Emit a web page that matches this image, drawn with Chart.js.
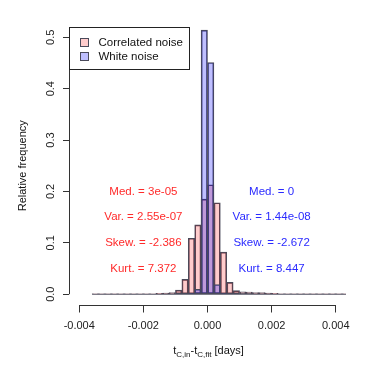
<!DOCTYPE html>
<html>
<head>
<meta charset="utf-8">
<script src="https://cdn.jsdelivr.net/npm/chart.js@4.4.1/dist/chart.umd.min.js"></script>
<style>
  body { margin: 0; background: #fff; }
  #wrap { width: 374px; height: 374px; }
</style>
</head>
<body>
<div id="wrap"><canvas id="histChart" width="374" height="374"></canvas></div>
<script>
// Bin centres of the histogram (bin width 0.0002 days)
const binCenters = [
  -0.0035, -0.0033, -0.0031, -0.0029, -0.0027, -0.0025, -0.0023, -0.0021,
  -0.0019, -0.0017, -0.0015, -0.0013, -0.0011, -0.0009, -0.0007, -0.0005,
  -0.0003, -0.0001, 0.0001, 0.0003, 0.0005, 0.0007, 0.0009, 0.0011,
  0.0013, 0.0015, 0.0017, 0.0019, 0.0021, 0.0023, 0.0025, 0.0027,
  0.0029, 0.0031, 0.0033, 0.0035, 0.0037, 0.0039, 0.0041, 0.0043
];
const binEdges = [-0.0036, 0.0044];

// Relative frequencies
const correlatedNoise = [
  0.0005, 0.0005, 0.0005, 0.0005, 0.0005, 0.0005, 0.0008, 0.001,
  0.001, 0.001, 0.0015, 0.002, 0.003, 0.008, 0.029, 0.109,
  0.135, 0.185, 0.213, 0.178, 0.082, 0.023, 0.007, 0.0045,
  0.004, 0.003, 0.003, 0.002, 0.0015, 0.001, 0.001, 0.001,
  0.0008, 0.0008, 0.0005, 0.0005, 0.0005, 0.0005, 0.0005, 0.0005
];
const whiteNoise = [
  0, 0, 0, 0, 0, 0, 0, 0,
  0, 0, 0, 0, 0, 0, 0, 0.001,
  0.0097, 0.514, 0.451, 0.019, 0.001, 0, 0, 0,
  0, 0, 0, 0, 0, 0, 0, 0,
  0, 0, 0, 0, 0, 0, 0, 0
];

const xTickValues = [-0.004, -0.002, 0, 0.002, 0.004];
const yTickValues = [0, 0.1, 0.2, 0.3, 0.4, 0.5];

// Summary statistics written on the plot
const statRowsY = [0.2, 0.15, 0.1, 0.05];
const correlatedStats = ['Med. = 3e-05', 'Var. = 2.55e-07', 'Skew. = -2.386', 'Kurt. = 7.372'];
const whiteStats = ['Med. = 0', 'Var. = 1.44e-08', 'Skew. = -2.672', 'Kurt. = 8.447'];
const correlatedStatsX = -0.002;
const whiteStatsX = 0.002;

const FONT = "'Liberation Sans', Arial, Helvetica, sans-serif";
const redFill = 'rgba(255, 0, 0, 0.2)';
const blueFill = 'rgba(0, 0, 255, 0.25)';
const edgeColor = '#4a4a5a';

function toPoints(values) {
  return binCenters.map((c, i) => ({ x: c, y: values[i] }));
}

// Draws axis lines (only between first and last tick), legend, stats and x title
const decorPlugin = {
  id: 'decor',
  afterDraw(chart) {
    const ctx = chart.ctx;
    const xs = chart.scales.x;
    const ys = chart.scales.y;
    const area = chart.chartArea;
    ctx.save();

    ctx.strokeStyle = '#333';
    ctx.lineWidth = 1;
    ctx.beginPath();
    const yb = Math.round(area.bottom) + 0.5;
    ctx.moveTo(xs.getPixelForValue(xTickValues[0]), yb);
    ctx.lineTo(xs.getPixelForValue(xTickValues[xTickValues.length - 1]), yb);
    const xl = Math.round(area.left) + 0.5;
    ctx.moveTo(xl, ys.getPixelForValue(yTickValues[0]));
    ctx.lineTo(xl, ys.getPixelForValue(yTickValues[yTickValues.length - 1]));
    ctx.stroke();

    // stats text
    ctx.font = '11.5px ' + FONT;
    ctx.textAlign = 'center';
    ctx.textBaseline = 'middle';
    statRowsY.forEach((v, i) => {
      const py = ys.getPixelForValue(v);
      ctx.fillStyle = '#ff2a2a';
      ctx.fillText(correlatedStats[i], xs.getPixelForValue(correlatedStatsX), py);
      ctx.fillStyle = '#2a2aff';
      ctx.fillText(whiteStats[i], xs.getPixelForValue(whiteStatsX), py);
    });

    // legend box in the top left corner
    const lx = Math.round(area.left) + 0.5;
    const ly = Math.round(area.top) + 0.5;
    ctx.strokeStyle = '#222';
    ctx.strokeRect(lx, ly, 120, 42);
    const entries = chart.data.datasets.filter(d => d.type === 'bar')
      .sort((a, b) => a.legendIndex - b.legendIndex);
    ctx.font = '11.5px ' + FONT;
    ctx.textAlign = 'left';
    entries.forEach((d, i) => {
      const cy = ly + 15 + i * 14;
      ctx.fillStyle = '#fff';
      ctx.fillRect(lx + 11, cy - 4, 8, 8);
      ctx.fillStyle = d.backgroundColor;
      ctx.fillRect(lx + 11, cy - 4, 8, 8);
      ctx.strokeStyle = edgeColor;
      ctx.strokeRect(lx + 11, cy - 4, 8, 8);
      ctx.fillStyle = '#111';
      ctx.fillText(d.label, lx + 29, cy + 0.5);
    });

    // x axis title with subscripts
    const parts = [
      ['t', 11, 0], ['C,in', 8, 3], ['-t', 11, 0], ['C,fit', 8, 3], [' [days]', 11, 0]
    ];
    let total = 0;
    parts.forEach(p => { ctx.font = p[1] + 'px ' + FONT; total += ctx.measureText(p[0]).width; });
    let px = (area.left + area.right) / 2 - total / 2 + 1;
    const base = 354;
    ctx.fillStyle = '#111';
    ctx.textBaseline = 'alphabetic';
    parts.forEach(p => {
      ctx.font = p[1] + 'px ' + FONT;
      ctx.fillText(p[0], px, base + p[2]);
      px += ctx.measureText(p[0]).width;
    });

    ctx.restore();
  }
};

const ctx = document.getElementById('histChart').getContext('2d');
new Chart(ctx, {
  type: 'bar',
  data: {
    datasets: [
      {
        type: 'bar',
        label: 'White noise',
        legendIndex: 1,
        data: toPoints(whiteNoise),
        backgroundColor: blueFill,
        borderColor: edgeColor,
        borderWidth: 1,
        borderSkipped: false,
        order: 0
      },
      {
        type: 'bar',
        label: 'Correlated noise',
        legendIndex: 0,
        data: toPoints(correlatedNoise),
        backgroundColor: redFill,
        borderColor: edgeColor,
        borderWidth: 1,
        borderSkipped: false,
        order: 1
      },
      {
        type: 'line',
        label: 'baseline',
        data: binEdges.map(e => ({ x: e, y: 0 })),
        borderColor: edgeColor,
        borderWidth: 1,
        pointRadius: 0,
        order: 2
      }
    ]
  },
  options: {
    responsive: false,
    animation: false,
    grouped: false,
    barPercentage: 1,
    categoryPercentage: 1,
    layout: { padding: { top: 27, right: 28, left: 0, bottom: 0 } },
    plugins: {
      legend: { display: false },
      tooltip: { enabled: false }
    },
    scales: {
      x: {
        type: 'linear',
        offset: false,
        min: -0.00432,
        max: 0.00432,
        afterBuildTicks: (scale) => { scale.ticks = xTickValues.map(v => ({ value: v })); },
        afterFit: (scale) => { scale.height = 69.5; },
        border: { display: false },
        grid: { offset: false, drawOnChartArea: false, drawTicks: true, tickLength: 8, color: '#333' },
        ticks: {
          color: '#222',
          font: { family: FONT, size: 11 },
          padding: 7,
          maxRotation: 0,
          callback: (v) => v.toFixed(3)
        }
      },
      y: {
        min: -0.02,
        max: 0.52,
        afterBuildTicks: (scale) => { scale.ticks = yTickValues.map(v => ({ value: v })); },
        afterFit: (scale) => { scale.width = 69; },
        border: { display: false },
        grid: { drawOnChartArea: false, drawTicks: true, tickLength: 6, color: '#333' },
        ticks: {
          color: '#222',
          font: { family: FONT, size: 11 },
          padding: 4,
          minRotation: 90,
          maxRotation: 90,
          crossAlign: 'center',
          callback: (v) => v.toFixed(1)
        },
        title: {
          display: true,
          text: 'Relative frequency',
          color: '#111',
          font: { family: FONT, size: 11 },
          padding: { top: 16, bottom: 0 }
        }
      }
    }
  },
  plugins: [decorPlugin]
});
</script>
</body>
</html>
